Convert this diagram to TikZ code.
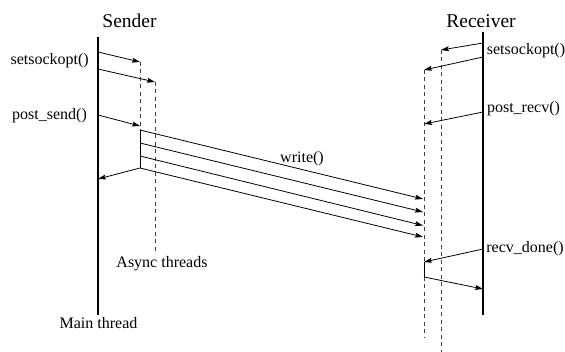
\documentclass[tikz,border=0pt]{standalone}
\usepackage{fontspec}
\setmainfont{Liberation Serif}
\usetikzlibrary{arrows.meta}
\begin{document}
\begin{tikzpicture}[x=1pt,y=-1pt,
  mainline/.style={line width=1.7pt},
  asyncline/.style={line width=0.9pt, dash pattern=on 4pt off 3.5pt, black!75},
  busy/.style={line width=1pt},
  msg/.style={line width=0.8pt, -{Stealth[length=8pt,width=5pt,inset=1.5pt]}},
  lbl/.style={font=\fontsize{16}{18}\selectfont, anchor=base, inner sep=0pt},
  title/.style={font=\fontsize{19.5}{22}\selectfont, anchor=base, inner sep=0pt}]
\useasboundingbox (0,0) rectangle (565,352);
% lifeline end points
\coordinate (sT) at (98,37);   \coordinate (sB) at (98,315);
\coordinate (a1T) at (140,62); \coordinate (a1S) at (140,130); \coordinate (a1E) at (140,168);
\coordinate (a2T) at (155,82); \coordinate (a2B) at (155,252);
\coordinate (rT) at (483,32);  \coordinate (rB) at (483,315);
\coordinate (b1T) at (424,70); \coordinate (b1S) at (424,262); \coordinate (b1E) at (424,277); \coordinate (b1B) at (424,338);
\coordinate (b2T) at (441,50); \coordinate (b2B) at (441,352);
% lifelines
\draw[mainline] (sT) -- (sB);
\draw[mainline] (rT) -- (rB);
\draw[asyncline] (a1T) -- (a1S);
\draw[busy] (a1S) -- (a1E);
\draw[asyncline] (a2T) -- (a2B);
\draw[asyncline] (b1T) -- (b1S);
\draw[busy] (b1S) -- (b1E);
\draw[asyncline] (b1E) -- (b1B);
\draw[asyncline] (b2T) -- (b2B);
% sender messages
\coordinate (m1) at (98,52);  \draw[msg] (m1) -- (a1T);
\coordinate (m2) at (98,69);  \draw[msg] (m2) -- (a2T);
\coordinate (m3) at (98,115); \coordinate (m3e) at (140,126); \draw[msg] (m3) -- (m3e);
\coordinate (m4) at (98,179); \draw[msg] (a1E) -- (m4);
% writes
\coordinate (w1s) at (140,130); \coordinate (w1e) at (423,199);
\coordinate (w2s) at (140,143); \coordinate (w2e) at (423,212);
\coordinate (w3s) at (140,156); \coordinate (w3e) at (423,225.5);
\coordinate (w4s) at (140,168); \coordinate (w4e) at (423,237);
\draw[msg] (w1s) -- (w1e);
\draw[msg] (w2s) -- (w2e);
\draw[msg] (w3s) -- (w3e);
\draw[msg] (w4s) -- (w4e);
% receiver messages
\coordinate (r1) at (483,43);  \draw[msg] (r1) -- (b2T);
\coordinate (r2) at (483,57);  \draw[msg] (r2) -- (b1T);
\coordinate (r3) at (483,112); \coordinate (r3e) at (424,124); \draw[msg] (r3) -- (r3e);
\coordinate (r4) at (483,249); \draw[msg] (r4) -- (b1S);
\coordinate (r5) at (483,289); \draw[msg] (b1E) -- (r5);
% labels
\node[title] (tS) at (129.5,27.3) {Sender};
\node[title] (tR) at (481,27.3) {Receiver};
\node[lbl] (l1) at (49.7,65) {setsockopt()};
\node[lbl] (l2) at (49.5,120) {post\_send()};
\node[lbl] (l3) at (526,55) {setsockopt()};
\node[lbl] (l4) at (523.5,113) {post\_recv()};
\node[lbl] (l5) at (525,253) {recv\_done()};
\node[lbl] (l6) at (302,162.7) {write()};
\node[lbl] (l7) at (162,268) {Async threads};
\node[lbl] (l8) at (98.5,329) {Main thread};
\end{tikzpicture}
\end{document}
